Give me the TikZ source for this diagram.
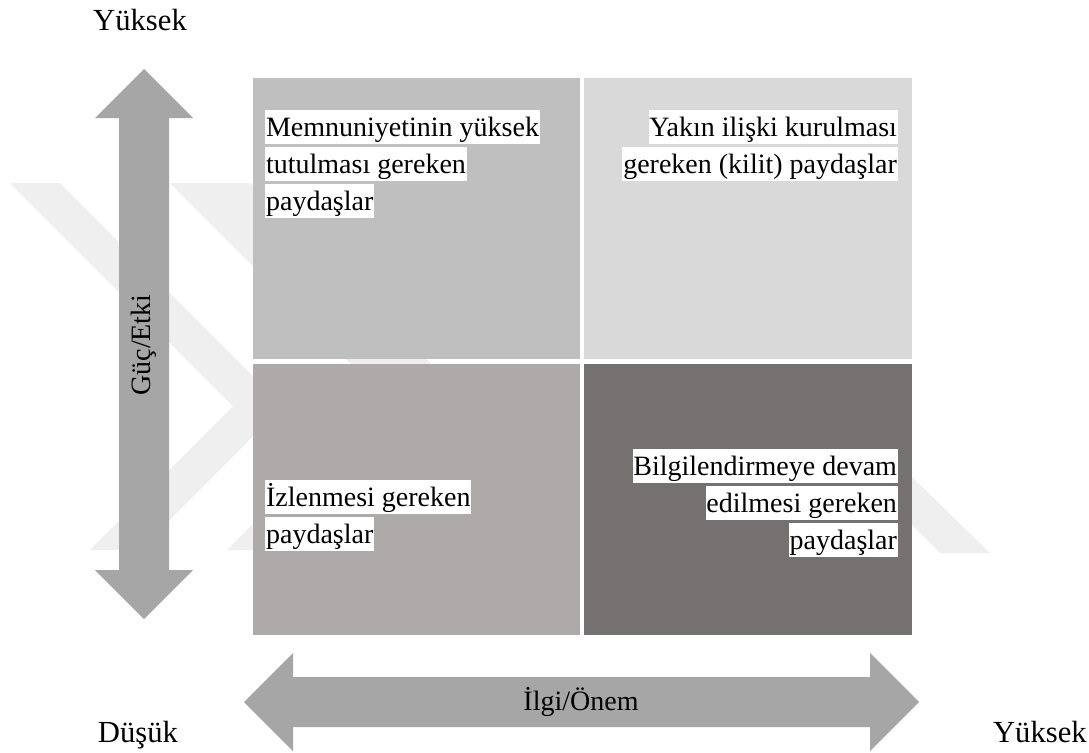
\documentclass[tikz,border=0pt]{standalone}
\usepackage{fontspec}
\setmainfont{Liberation Serif}
\definecolor{qTL}{HTML}{BFBFBF}
\definecolor{qTR}{HTML}{D9D9D9}
\definecolor{qBL}{HTML}{AEAAAA}
\definecolor{qBR}{HTML}{767171}
\definecolor{axisgray}{HTML}{A6A6A6}
\definecolor{wmark}{HTML}{EFEFEF}
\begin{document}
\begin{tikzpicture}[x=0.75pt,y=-0.75pt,
  every node/.style={inner sep=0pt, text=black},
  axislbl/.style={font=\fontsize{23}{27}\selectfont},
  arrowlbl/.style={font=\fontsize{21}{25}\selectfont},
  hl/.style={fill=white, inner xsep=0.6pt, inner ysep=0pt,
    text height=19.5pt, text depth=6pt, font=\fontsize{21}{25}\selectfont}]
  % canvas
  \useasboundingbox (0,0) rectangle (1089,753);
  \fill[white] (0,0) rectangle (1089,753);

  % faint background chevrons
  \fill[wmark] (10,183) -- (60,183) -- (283,406) -- (140,550) -- (90,550) -- (233,406) -- cycle;
  \fill[wmark] (170,183) -- (250,183) -- (462,395) -- (307,550) -- (227,550) -- (382,395) -- cycle;
  \fill[wmark] (912,477) -- (990,553) -- (940,553) -- (912,525) -- cycle;

  % four quadrants
  \fill[qTL] (253,78) rectangle (580,359);
  \fill[qTR] (584,78) rectangle (912,359);
  \fill[qBL] (253,364) rectangle (580,635);
  \fill[qBR] (584,364) rectangle (912,635);

  % vertical double arrow (power / influence)
  \fill[axisgray] (144,69) -- (193,118) -- (169,118) -- (169,570) -- (193,570)
    -- (144,619) -- (95,570) -- (119,570) -- (119,118) -- (95,118) -- cycle;
  % horizontal double arrow (interest / importance)
  \fill[axisgray] (244,702) -- (293,653) -- (293,677) -- (870,677) -- (870,653)
    -- (919,702) -- (870,751) -- (870,727) -- (293,727) -- (293,751) -- cycle;

  % arrow labels
  \node[arrowlbl, rotate=90] (power) at (144,345) {Güç/Etki};
  \node[arrowlbl] (interest) at (581,702) {İlgi/Önem};

  % axis end labels
  \node[axislbl, anchor=base] (highTop) at (140,30) {Yüksek};
  \node[axislbl, anchor=base] (lowLeft) at (138,742) {Düşük};
  \node[axislbl, anchor=base east] (highRight) at (1087,742) {Yüksek};

  % top-left quadrant
  \node[hl, anchor=base west] (tl1) at (265,136) {Memnuniyetinin yüksek};
  \node[hl, anchor=base west] (tl2) at (265,173) {tutulması gereken};
  \node[hl, anchor=base west] (tl3) at (265,210) {paydaşlar};

  % top-right quadrant
  \node[hl, anchor=base east] (tr1) at (898,136) {Yakın ilişki kurulması};
  \node[hl, anchor=base east] (tr2) at (898,173) {gereken (kilit) paydaşlar};

  % bottom-left quadrant
  \node[hl, anchor=base west] (bl1) at (265,506) {İzlenmesi gereken};
  \node[hl, anchor=base west] (bl2) at (265,543) {paydaşlar};

  % bottom-right quadrant
  \node[hl, anchor=base east] (br1) at (898,475) {Bilgilendirmeye devam};
  \node[hl, anchor=base east] (br2) at (898,512) {edilmesi gereken};
  \node[hl, anchor=base east] (br3) at (898,549) {paydaşlar};
\end{tikzpicture}
\end{document}
